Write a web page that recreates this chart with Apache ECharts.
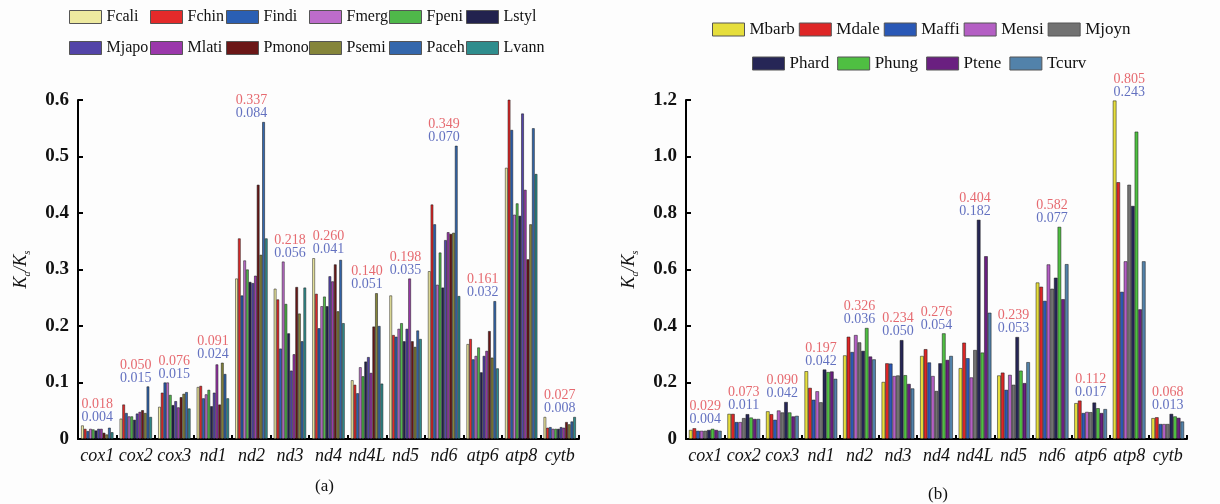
<!DOCTYPE html>
<html>
<head>
<meta charset="utf-8">
<script src="https://cdn.jsdelivr.net/npm/echarts@6/dist/echarts.min.js"></script>
<style>
html,body{margin:0;padding:0;background:#fdfdfd;}
#c{width:1220px;height:504px;}
</style>
</head>
<body>
<div id="c"></div>
<script>
var categories = ['cox1','cox2','cox3','nd1','nd2','nd3','nd4','nd4L','nd5','nd6','atp6','atp8','cytb'];

// Panel (a)
var namesA = ['Fcali','Fchin','Findi','Fmerg','Fpeni','Lstyl','Mjapo','Mlati','Pmono','Psemi','Paceh','Lvann'];
var colorsA = ['#eeeaa0','#e42a2a','#2a5fb4','#bd6ccb','#4fb84a','#22224e','#5344a8','#9b38ab','#6b1717','#85853a','#3467ac','#2f8d8d'];
var Fcali = [0.024,0.036,0.057,0.092,0.284,0.266,0.320,0.104,0.254,0.297,0.168,0.480,0.039];
var Fchin = [0.018,0.061,0.082,0.094,0.355,0.247,0.257,0.096,0.184,0.415,0.177,0.603,0.020];
var Findi = [0.014,0.046,0.100,0.072,0.254,0.160,0.196,0.081,0.181,0.380,0.141,0.547,0.021];
var Fmerg = [0.018,0.040,0.100,0.079,0.316,0.314,0.235,0.127,0.195,0.273,0.147,0.397,0.018];
var Fpeni = [0.017,0.040,0.078,0.087,0.300,0.239,0.252,0.111,0.205,0.330,0.162,0.417,0.018];
var Lstyl = [0.015,0.034,0.060,0.058,0.278,0.187,0.235,0.137,0.173,0.268,0.118,0.395,0.018];
var Mjapo = [0.018,0.045,0.067,0.082,0.276,0.121,0.288,0.145,0.195,0.352,0.147,0.576,0.021];
var Mlati = [0.018,0.048,0.056,0.132,0.289,0.150,0.279,0.117,0.284,0.366,0.156,0.441,0.020];
var Pmono = [0.011,0.051,0.074,0.061,0.450,0.269,0.309,0.199,0.173,0.363,0.191,0.318,0.030];
var Psemi = [0.008,0.046,0.080,0.135,0.326,0.222,0.226,0.258,0.163,0.365,0.144,0.380,0.026];
var Paceh = [0.020,0.093,0.083,0.115,0.561,0.173,0.317,0.200,0.192,0.519,0.244,0.550,0.031];
var Lvann = [0.012,0.039,0.054,0.072,0.355,0.268,0.205,0.098,0.177,0.253,0.125,0.469,0.039];
var valuesA = [Fcali,Fchin,Findi,Fmerg,Fpeni,Lstyl,Mjapo,Mlati,Pmono,Psemi,Paceh,Lvann];
var redA  = ['0.018','0.050','0.076','0.091','0.337','0.218','0.260','0.140','0.198','0.349','0.161','0.465','0.027'];
var blueA = ['0.004','0.015','0.015','0.024','0.084','0.056','0.041','0.051','0.035','0.070','0.032','0.085','0.008'];
var yTicksA = ['0','0.1','0.2','0.3','0.4','0.5','0.6'];

// Panel (b)
var namesB = ['Mbarb','Mdale','Maffi','Mensi','Mjoyn','Phard','Phung','Ptene','Tcurv'];
var colorsB = ['#e6de3c','#de2626','#2a58b6','#b45fc4','#727272','#262656','#4fbf42','#6a1f80','#5282aa'];
var Mbarb = [0.032,0.089,0.098,0.240,0.296,0.202,0.294,0.251,0.225,0.554,0.127,1.198,0.074];
var Mdale = [0.038,0.089,0.088,0.181,0.362,0.268,0.318,0.341,0.235,0.539,0.136,0.909,0.077];
var Maffi = [0.029,0.060,0.068,0.139,0.308,0.267,0.271,0.286,0.174,0.489,0.092,0.521,0.053];
var Mensi = [0.029,0.060,0.101,0.169,0.368,0.223,0.223,0.218,0.227,0.618,0.096,0.629,0.053];
var Mjoyn = [0.029,0.074,0.094,0.130,0.342,0.225,0.170,0.315,0.192,0.532,0.095,0.900,0.053];
var Phard = [0.032,0.088,0.131,0.246,0.312,0.350,0.268,0.776,0.361,0.571,0.129,0.825,0.089];
var Phung = [0.036,0.076,0.094,0.237,0.393,0.226,0.374,0.306,0.242,0.751,0.109,1.088,0.080];
var Ptene = [0.032,0.071,0.080,0.239,0.292,0.195,0.280,0.647,0.198,0.495,0.092,0.459,0.075];
var Tcurv = [0.029,0.071,0.082,0.213,0.282,0.179,0.294,0.447,0.272,0.619,0.106,0.629,0.062];
var valuesB = [Mbarb,Mdale,Maffi,Mensi,Mjoyn,Phard,Phung,Ptene,Tcurv];
var redB  = ['0.029','0.073','0.090','0.197','0.326','0.234','0.276','0.404','0.239','0.582','0.112','0.805','0.068'];
var blueB = ['0.004','0.011','0.042','0.042','0.036','0.050','0.054','0.182','0.053','0.077','0.017','0.243','0.013'];
var yTicksB = ['0','0.2','0.4','0.6','0.8','1.0','1.2'];

var SERIF = '"Liberation Serif", "DejaVu Serif", serif';

function barSeries(names, colors, values, axisIdx, barCatGap) {
  return names.map(function (n, i) {
    return {
      name: n, type: 'bar', xAxisIndex: axisIdx, yAxisIndex: axisIdx,
      data: values[i], barGap: '0%', barCategoryGap: barCatGap,
      itemStyle: {color: colors[i], borderColor: 'rgba(20,20,20,0.85)', borderWidth: 0.6},
      emphasis: {disabled: true}, animation: false
    };
  });
}

function annotSeries(values, red, blue, axisIdx) {
  var data = categories.map(function (c, j) {
    var m = 0;
    values.forEach(function (arr) { if (arr[j] > m) m = arr[j]; });
    return {value: [j, m], r: red[j], b: blue[j]};
  });
  return {
    type: 'scatter', xAxisIndex: axisIdx, yAxisIndex: axisIdx, data: data,
    symbolSize: 0, silent: true, animation: false,
    label: {
      show: true, position: 'top', distance: 2,
      formatter: function (p) { return '{r|' + p.data.r + '}\n{b|' + p.data.b + '}'; },
      rich: {
        r: {color: '#e0454c', fontFamily: SERIF, fontSize: 14, lineHeight: 13},
        b: {color: '#3c4db0', fontFamily: SERIF, fontSize: 14, lineHeight: 13}
      }
    }
  };
}

function legendCfg(names, left, top, orient, gap, fs) {
  return {
    data: names, left: left, top: top, orient: orient, padding: 0,
    itemWidth: 32, itemHeight: 13, itemGap: gap, selectedMode: false,
    icon: 'rect',
    itemStyle: {borderColor: '#555', borderWidth: 1},
    textStyle: {fontFamily: SERIF, fontSize: fs, color: '#111'}
  };
}

function yAxisCfg(ticks, max, interval, grid) {
  return {
    type: 'value', gridIndex: grid, min: 0, max: max, interval: interval,
    name: '{k|K}{s|a}{k|/K}{s|s}', nameLocation: 'middle', nameGap: 46, nameRotate: 90,
    nameTextStyle: {
      rich: {
        k: {fontFamily: SERIF, fontStyle: 'italic', fontSize: 18, color: '#111', lineHeight: 22},
        s: {fontFamily: SERIF, fontStyle: 'italic', fontSize: 10, color: '#111', lineHeight: 22, verticalAlign: 'bottom', padding: [8, 0, 0, 0]}
      }
    },
    axisLine: {show: true, lineStyle: {color: '#000', width: 2}},
    axisTick: {show: true, inside: true, length: 5, lineStyle: {color: '#000', width: 2}},
    splitLine: {show: false},
    axisLabel: {
      fontFamily: SERIF, fontSize: 19, fontWeight: 'bold', color: '#111', margin: 9,
      formatter: function (v) { return ticks[Math.round(v / interval)]; }
    }
  };
}

function xAxisCfg(grid) {
  return {
    type: 'category', gridIndex: grid, data: categories,
    axisLine: {show: true, lineStyle: {color: '#000', width: 2}},
    axisTick: {show: true, inside: true, length: 4, lineStyle: {color: '#000', width: 2}},
    axisLabel: {fontFamily: SERIF, fontStyle: 'italic', fontSize: 18, color: '#111', margin: 8, interval: 0}
  };
}

// legend columns for panel (a): each column holds one item of row 1 and one of row 2
var legendColsA = [69, 150, 226, 309, 389, 466];
var legends = legendColsA.map(function (x, i) {
  return legendCfg([namesA[i], namesA[i + 6]], x, 9, 'vertical', 15, 16);
});
legends.push(legendCfg(namesB.slice(0, 5), 712, 21, 'horizontal', 4, 17));
legends.push(legendCfg(namesB.slice(5), 752, 55, 'horizontal', 8, 17));

var chart = echarts.init(document.getElementById('c'), null, {renderer: 'canvas'});
var option = {
  backgroundColor: '#fdfdfd',
  animation: false,
  color: colorsA.concat(colorsB),
  grid: [
    {left: 78, top: 100, width: 501, height: 339},
    {left: 686, top: 100, width: 501, height: 339}
  ],
  legend: legends,
  xAxis: [xAxisCfg(0), xAxisCfg(1)],
  yAxis: [yAxisCfg(yTicksA, 0.6, 0.1, 0), yAxisCfg(yTicksB, 1.2, 0.2, 1)],
  series: [].concat(
    barSeries(namesA, colorsA, valuesA, 0, '16%'),
    [annotSeries(valuesA, redA, blueA, 0)],
    barSeries(namesB, colorsB, valuesB, 1, '15%'),
    [annotSeries(valuesB, redB, blueB, 1)]
  ),
  graphic: [
    {type: 'text', left: 315, top: 478, style: {text: '(a)', font: '17px "Liberation Serif", serif', fill: '#111'}},
    {type: 'text', left: 928, top: 486, style: {text: '(b)', font: '17px "Liberation Serif", serif', fill: '#111'}}
  ]
};
chart.setOption(option);
</script>
</body>
</html>
